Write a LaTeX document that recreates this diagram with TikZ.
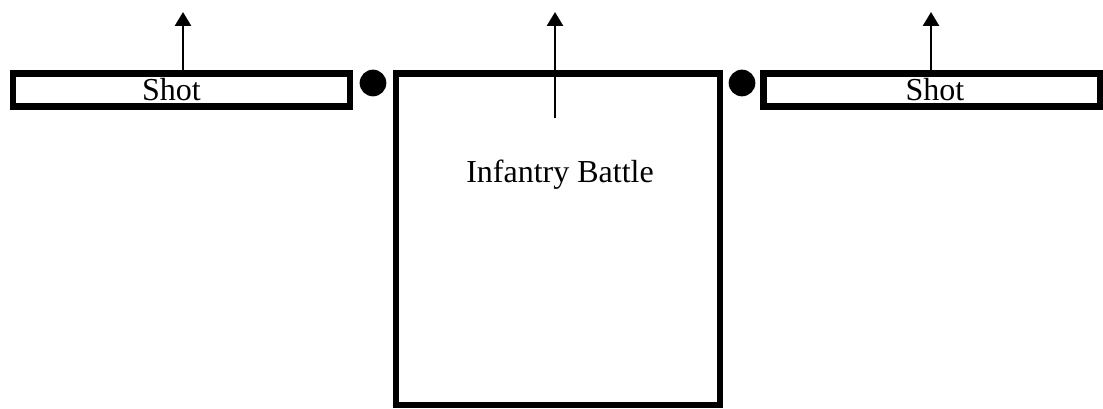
\documentclass[tikz,border=0pt]{standalone}
\usepackage{fontspec}
\setmainfont{Liberation Serif}
\usetikzlibrary{arrows.meta, positioning}
\tikzset{
  box/.style={
    rectangle, draw=black, line width=5pt,
    inner sep=0pt, fill=white,
    font=\fontsize{24}{28}\selectfont
  },
  shotBox/.style={box, minimum width=252.75pt, minimum height=24.75pt},
  battleBox/.style={box, minimum width=243pt, minimum height=248.6pt},
  joint/.style={circle, fill=black, inner sep=0pt, minimum size=20pt},
  boxText/.style={font=\fontsize{24}{28}\selectfont, inner sep=0pt},
  arr/.style={-{Triangle[length=10.5pt, width=12pt]}, line width=2pt},
}
\begin{document}
\begin{tikzpicture}[x=0.75pt, y=-0.75pt]
\useasboundingbox (0,0) rectangle (1103,409);

% ---- Boxes ----------------------------------------------------
\node[shotBox] (shotL) at (181.5,90) {\hspace*{-15pt}Shot};
\node[battleBox] (battle) at (558,239.25) {};
\node[shotBox] (shotR) at (932,90) {\hspace*{4.5pt}Shot};
\node[boxText, anchor=base] (battleTxt) at (560,183) {Infantry Battle};

% ---- Joints ---------------------------------------------------
\node[joint] (jointL) at (373,83) {};
\node[joint] (jointR) at (742,83) {};

% ---- Arrows ---------------------------------------------------
\coordinate (upL) at (183,12);
\coordinate (upM) at (555,12);
\coordinate (startM) at (555,118);
\coordinate (upR) at (931,12);
\draw[arr] (shotL.north -| upL) -- (upL);
\draw[arr] (startM) -- (upM);
\draw[arr] (shotR.north -| upR) -- (upR);

\end{tikzpicture}
\end{document}
